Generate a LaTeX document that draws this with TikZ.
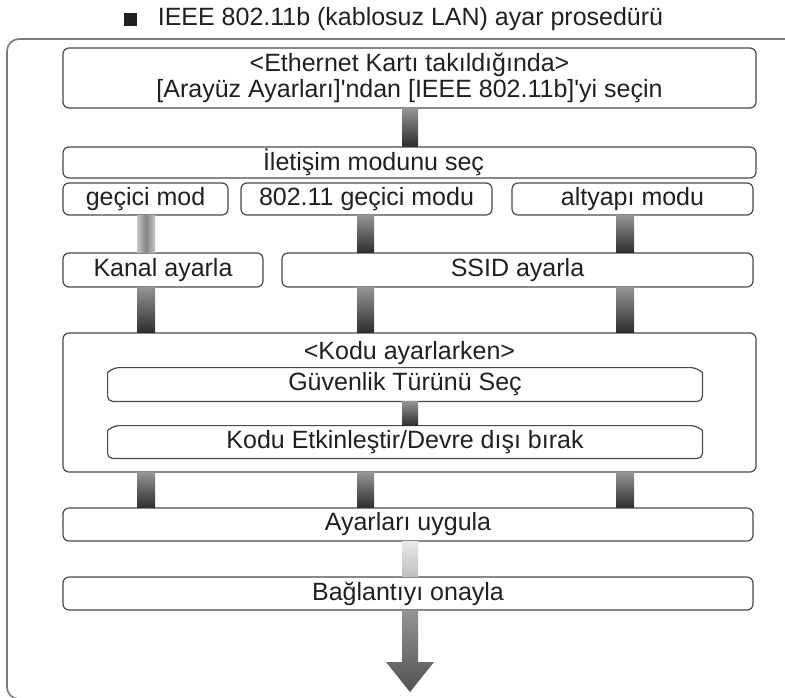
\documentclass[tikz,border=0pt]{standalone}
\usepackage{fontspec}
\setmainfont{Liberation Sans}
\usepackage{xcolor}
\usetikzlibrary{positioning}
\definecolor{boxline}{HTML}{4A4A4A}
\definecolor{inktext}{HTML}{231F20}
\definecolor{framegray}{HTML}{7A7A7A}

\begin{document}
\begin{tikzpicture}[x=0.5pt,y=-0.5pt,
    box/.style={draw=boxline, line width=0.6pt, rounded corners=3pt, inner sep=0pt,
      text=inktext, font=\fontsize{12.5}{13}\selectfont},
    plain/.style={inner sep=0pt, text=inktext, font=\fontsize{12.5}{13}\selectfont},
    edge/.style={draw=boxline, line width=0.6pt},
    bar/.style={top color=black!42, bottom color=black!82},
    sidebar/.style={left color=black!22, right color=black!22, middle color=black!48},
    palebar/.style={top color=black!9, bottom color=black!25},
    arrowbar/.style={top color=black!42, bottom color=black!68}]
  \clip (0,0) rectangle (785,697);
  % outer frame and title
  \draw[framegray, line width=0.8pt, rounded corners=6pt] (800,39) -- (7,39) -- (7,699) -- (800,699);
  \node[fill=inktext, minimum size=6.5pt, inner sep=0pt] (mark) at (130.5,19.5) {};
  \node[plain, right=10pt of mark] (title) {IEEE 802.11b (kablosuz LAN) ayar prosedürü};
  % bar columns
  \coordinate (l0) at (402,0); \coordinate (r0) at (418,0);
  \coordinate (l1) at (137,0); \coordinate (r1) at (155,0);
  \coordinate (l2) at (357,0); \coordinate (r2) at (374,0);
  \coordinate (l3) at (616,0); \coordinate (r3) at (634,0);
  % boxes
  \node[box, minimum width=346.5pt, minimum height=30pt, align=center] (ether) at (409.5,78)
    {<Ethernet Kartı takıldığında>\\{}[Arayüz Ayarları]\textquotesingle ndan [IEEE 802.11b]\textquotesingle yi seçin};
  \node[box, minimum width=346.5pt, minimum height=15.5pt] (mode) at (409.5,162.5) {};
  \node[plain] (modetext) at (373.5,162.5) {İletişim modunu seç};
  \node[box, minimum width=82.5pt, minimum height=16pt] (adhoc) at (145.5,199) {geçici mod};
  \node[box, minimum width=125.5pt, minimum height=16pt] (adhocb) at (366.5,199) {802.11 geçici modu};
  \node[box, minimum width=120.5pt, minimum height=16pt] (infra) at (632.5,199) {altyapı modu};
  \node[box, minimum width=100pt, minimum height=17pt] (channel) at (163,270) {Kanal ayarla};
  \node[box, minimum width=235.5pt, minimum height=17pt] (ssid) at (517.5,270) {SSID ayarla};
  \node[box, minimum width=346.5pt, minimum height=69.5pt] (wep) at (409.5,402.5) {};
  \node[plain] (weptitle) at (409.5,353) {<Kodu ayarlarken>};
  \node[plain, minimum width=297pt, minimum height=16.5pt] (sectype) at (405,384.5) {Güvenlik Türünü Seç};
  \node[plain, minimum width=297pt, minimum height=16pt] (enable) at (405,442) {Kodu Etkinleştir/Devre dışı bırak};
  \node[box, minimum width=345pt, minimum height=16.5pt] (apply) at (408,524.5) {Ayarları uygula};
  \node[box, minimum width=345pt, minimum height=16.5pt] (check) at (408,593.5) {Bağlantıyı onayla};
  % inner boxes with swept top corners
  \foreach \n in {sectype,enable}
    \draw[edge, rounded corners=2.5pt] ([xshift=8pt]\n.north west)
      .. controls ([xshift=3.5pt]\n.north west) and ([yshift=-2pt]\n.north west) .. ([yshift=-5pt]\n.north west)
      -- (\n.south west) -- (\n.south east) -- ([yshift=-5pt]\n.north east)
      .. controls ([yshift=-2pt]\n.north east) and ([xshift=-3.5pt]\n.north east) .. ([xshift=-8pt]\n.north east)
      -- cycle;
  % connectors
  \shade[bar] (ether.south -| l0) rectangle (mode.north -| r0);
  \shade[sidebar] (adhoc.south -| l1) rectangle (channel.north -| r1);
  \shade[bar] (adhocb.south -| l2) rectangle (ssid.north -| r2);
  \shade[bar] (infra.south -| l3) rectangle (ssid.north -| r3);
  \shade[bar] (channel.south -| l1) rectangle (wep.north -| r1);
  \shade[bar] (ssid.south -| l2) rectangle (wep.north -| r2);
  \shade[bar] (ssid.south -| l3) rectangle (wep.north -| r3);
  \shade[bar] (sectype.south -| l0) rectangle (enable.north -| r0);
  \shade[bar] (wep.south -| l1) rectangle (apply.north -| r1);
  \shade[bar] (wep.south -| l2) rectangle (apply.north -| r2);
  \shade[bar] (wep.south -| l3) rectangle (apply.north -| r3);
  \shade[palebar] (apply.south -| l0) rectangle (check.north -| r0);
  % final arrow
  \coordinate (headl) at (386,662);
  \coordinate (headr) at (434,662);
  \coordinate (tip) at (410,692);
  \shade[arrowbar] (check.south -| l0) |- (headl) -- (tip) -- (headr) -| (check.south -| r0) -- cycle;
\end{tikzpicture}
\end{document}
